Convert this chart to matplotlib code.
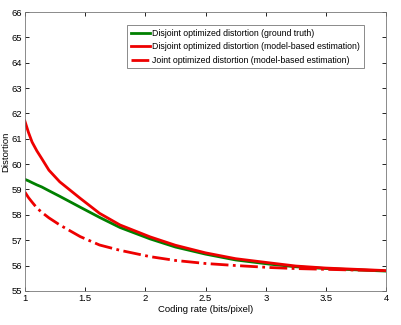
import matplotlib
matplotlib.use('Agg')
import matplotlib.pyplot as plt

# Coding rate (bits/pixel) and distortion.
rate = [1.0, 1.03, 1.06, 1.1, 1.14, 1.2, 1.29, 1.46, 1.62, 1.79, 2.04, 2.25, 2.5, 2.75, 3.04, 3.25, 3.5, 3.75, 4.0]
ground_truth = [59.4, 59.34, 59.27, 59.18, 59.1, 58.95, 58.73, 58.3, 57.9, 57.5, 57.05, 56.73, 56.45, 56.22, 56.05, 55.95, 55.88, 55.83, 55.78]
disjoint_model = [61.7, 61.25, 60.87, 60.52, 60.22, 59.76, 59.3, 58.65, 58.06, 57.6, 57.13, 56.8, 56.5, 56.27, 56.1, 55.98, 55.9, 55.85, 55.8]
joint_model = [58.9, 58.68, 58.5, 58.27, 58.1, 57.88, 57.6, 57.14, 56.81, 56.6, 56.35, 56.2, 56.08, 56.0, 55.92, 55.88, 55.85, 55.82, 55.8]

labels = ['Disjoint optimized distortion (ground truth)',
          'Disjoint optimized distortion (model-based estimation)',
          'Joint optimized distortion (model-based estimation)']

plt.rcParams['font.family'] = ['Liberation Sans', 'DejaVu Sans']

fig = plt.figure(figsize=(4.01, 3.25), dpi=100)
ax = fig.add_axes([0.062, 0.105, 0.901, 0.858])

ax.plot(rate, ground_truth, c='#008000', lw=2, label=labels[0])
ax.plot(rate, disjoint_model, c='#ee0000', lw=2, label=labels[1])
ax.plot(rate, joint_model, c='#ee0000', lw=2, ls='-.', label=labels[2])

ax.set_xlim(1, 4)
ax.set_ylim(55, 66)
ax.set_xticks([1, 1.5, 2, 2.5, 3, 3.5, 4])
ax.set_xticklabels(['1', '1.5', '2', '2.5', '3', '3.5', '4'])
ax.set_yticks(range(55, 67))
ax.tick_params(direction='in', top=True, right=True, labelsize=6.8, length=3, width=0.6, pad=2)
for s in ax.spines.values():
    s.set_linewidth(0.6)
    s.set_color('#777777')

ax.set_xlabel('Coding rate (bits/pixel)', fontsize=6.8, labelpad=2)
ax.set_ylabel('Distortion', fontsize=6.8, labelpad=1)

leg = ax.legend(loc='upper left', bbox_to_anchor=(0.283, 0.952), fontsize=6.3,
                frameon=True, fancybox=False, handlelength=2.2, handletextpad=0.3,
                borderpad=0.4, labelspacing=0.5, borderaxespad=0)
leg.get_frame().set_edgecolor('#555555')
leg.get_frame().set_linewidth(0.6)

fig.savefig('out.png', dpi=100)
